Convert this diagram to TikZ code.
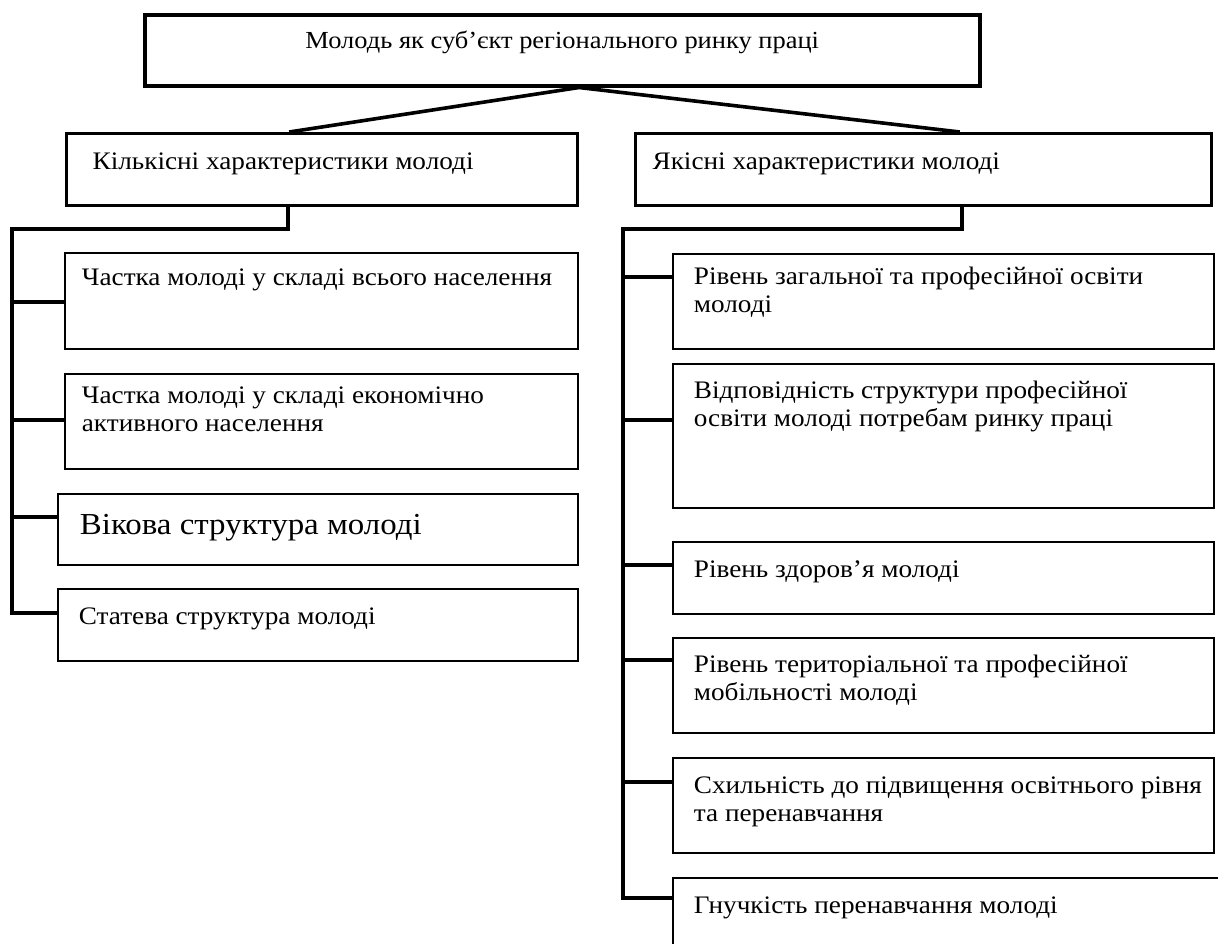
\documentclass[tikz,border=0pt]{standalone}
\usepackage{fontspec}
\setmainfont{Liberation Serif}[FakeStretch=1.08]
\usetikzlibrary{calc}
\newcommand{\cellbox}[6]{\parbox[c][#2][t]{#1}{\fontsize{#5}{27.8pt}\selectfont\leftskip=#3\relax\rightskip=0pt plus 1fil\relax\parindent=0pt\hyphenpenalty=10000\relax\rule{0pt}{#4}#6}}
\tikzset{
  topbox/.style={draw, line width=3.5pt, inner sep=0pt, anchor=north west},
  midbox/.style={draw, line width=3.2pt, inner sep=0pt, anchor=north west},
  leafbox/.style={draw, line width=1.8pt, inner sep=0pt, anchor=north west},
  link/.style={line width=3.6pt},
}
\begin{document}
\begin{tikzpicture}[x=1pt,y=-1pt]
\useasboundingbox (0,0) rectangle (1218,943);
\fill[white] (0,0) rectangle (1218,943);
\clip (0,0) rectangle (1218,943);
% top
\node[topbox] (top) at (143,13) {\parbox[c][71pt][t]{835pt}{\centering\fontsize{24.5pt}{27.8pt}\selectfont\rule{0pt}{34pt}Молодь як суб’єкт регіонального ринку праці}};
\node[midbox] (kil) at (65,132) {\cellbox{511pt}{72pt}{26pt}{36pt}{25.2pt}{Кількісні характеристики молоді}};
\node[midbox] (yak) at (634,132) {\cellbox{576pt}{72pt}{17pt}{36pt}{25.2pt}{Якісні характеристики молоді}};
% left leaves
\node[leafbox] (L1) at (64,252) {\cellbox{513pt}{96pt}{17pt}{33pt}{25.2pt}{Частка молоді у складі всього населення}};
\node[leafbox] (L2) at (64,373) {\cellbox{513pt}{95pt}{17pt}{30pt}{25.2pt}{Частка молоді у складі економічно\\активного населення}};
\node[leafbox] (L3) at (57,493) {\cellbox{520pt}{71pt}{22pt}{41pt}{30.5pt}{Вікова структура молоді}};
\node[leafbox] (L4) at (57,588) {\cellbox{520pt}{72pt}{21pt}{36pt}{25.2pt}{Статева структура молоді}};
% right leaves
\node[leafbox] (R1) at (672,253) {\cellbox{541pt}{95pt}{21pt}{31pt}{25.2pt}{Рівень загальної та професійної освіти\\молоді}};
\node[leafbox] (R2) at (672,363) {\cellbox{541pt}{144pt}{21pt}{35pt}{25.2pt}{Відповідність структури професійної\\освіти молоді потребам ринку праці}};
\node[leafbox] (R3) at (672,541) {\cellbox{541pt}{72pt}{21pt}{36pt}{25.2pt}{Рівень здоров’я молоді}};
\node[leafbox] (R4) at (672,637) {\cellbox{541pt}{95pt}{21pt}{35pt}{25.2pt}{Рівень територіальної та професійної\\мобільності молоді}};
\node[leafbox] (R5) at (672,757) {\cellbox{541pt}{95pt}{21pt}{36pt}{25.2pt}{Схильність до підвищення освітнього рівня\\та перенавчання}};
\node[leafbox] (R6) at (672,877) {\cellbox{600pt}{100pt}{21pt}{36pt}{25.2pt}{Гнучкість перенавчання молоді}};
% top connectors
\coordinate (apex) at ($(top.south west)!0.52!(top.south east)$);
\draw[link] (apex) -- ($(kil.north west)!0.436!(kil.north east)$);
\draw[link] (apex) -- ($(yak.north west)!0.5625!(yak.north east)$);
% left bus
\coordinate (kd) at ($(kil.south west)!0.434!(kil.south east)$);
\coordinate (lt) at (12,229);
\coordinate (s1) at ($(L1.north west)+(0,50)$);
\coordinate (s2) at ($(L2.north west)+(0,47)$);
\coordinate (s3) at ($(L3.north west)+(0,24)$);
\coordinate (s4) at ($(L4.north west)+(0,25)$);
\draw[link] (kd) |- (lt) |- (s4);
\draw[link] (s1 -| lt) -- (s1);
\draw[link] (s2 -| lt) -- (s2);
\draw[link] (s3 -| lt) -- (s3);
% right bus
\coordinate (yd) at ($(yak.south west)!0.566!(yak.south east)$);
\coordinate (rt) at (623,229);
\coordinate (r1) at ($(R1.north west)+(0,24)$);
\coordinate (r2) at ($(R2.north west)+(0,57)$);
\coordinate (r3) at ($(R3.north west)+(0,24)$);
\coordinate (r4) at ($(R4.north west)+(0,23)$);
\coordinate (r5) at ($(R5.north west)+(0,25)$);
\coordinate (r6) at ($(R6.north west)+(0,21)$);
\draw[link] (yd) |- (rt) |- (r6);
\draw[link] (r1 -| rt) -- (r1);
\draw[link] (r2 -| rt) -- (r2);
\draw[link] (r3 -| rt) -- (r3);
\draw[link] (r4 -| rt) -- (r4);
\draw[link] (r5 -| rt) -- (r5);
\end{tikzpicture}
\end{document}
